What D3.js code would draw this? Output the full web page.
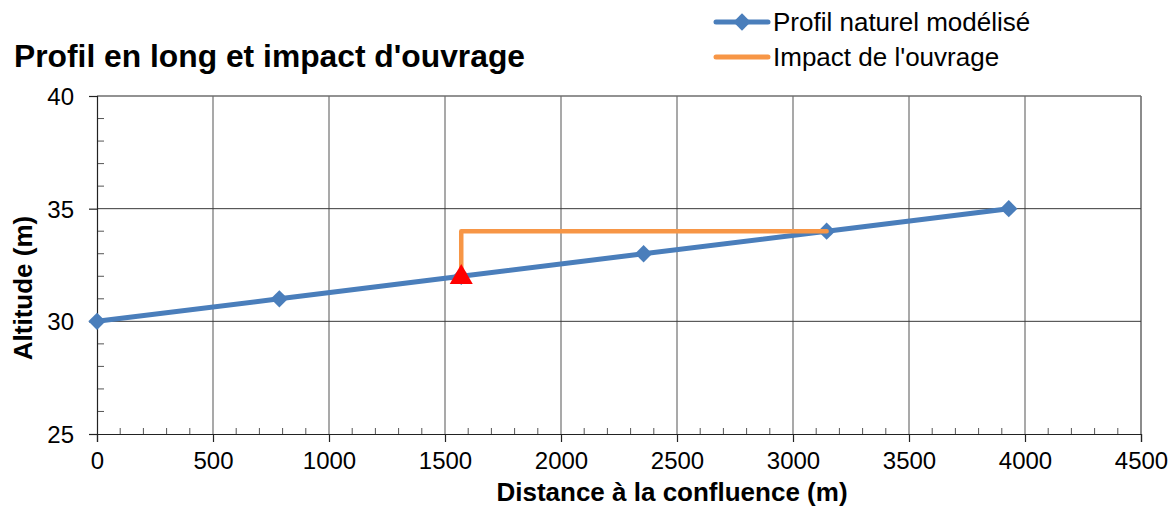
<!DOCTYPE html>
<html><head><meta charset="utf-8">
<script src="https://cdn.jsdelivr.net/npm/d3@7"></script>
<style>body{margin:0;background:#fff}text{font-family:"Liberation Sans",Arial,sans-serif}</style>
</head><body><svg id="c" width="1175" height="509"></svg>
<script>
const title = "Profil en long et impact d'ouvrage";
const xTitle = "Distance à la confluence (m)";
const yTitle = "Altitude (m)";
const seriesNames = ["Profil naturel modélisé", "Impact de l'ouvrage"];
const profilX = [0, 786, 1570, 2356, 3145, 3930];
const profilY = [30, 31, 32, 33, 34, 35];
const impactX = [1570, 1570, 3145];
const impactY = [32, 34, 34];
const ouvrageX = [1570];
const ouvrageY = [32];
const xTicks = [0, 500, 1000, 1500, 2000, 2500, 3000, 3500, 4000, 4500];
const yTicks = [25, 30, 35, 40];

const svg = d3.select("#c");
const x = d3.scaleLinear().domain([0, 4500]).range([97, 1141]);
const y = d3.scaleLinear().domain([25, 40]).range([434, 96]);

// vertical grid
svg.append("g").selectAll("line").data(xTicks.slice(1)).join("line")
  .attr("x1", d => x(d)).attr("x2", d => x(d)).attr("y1", y(40)).attr("y2", y(25))
  .attr("stroke", "#8c8c8c").attr("stroke-width", d => d === 4500 ? 2 : 1.5);
// horizontal grid
svg.append("g").selectAll("line").data(yTicks.slice(1)).join("line")
  .attr("x1", x(0)).attr("x2", x(4500)).attr("y1", d => y(d)).attr("y2", d => y(d))
  .attr("stroke", d => d === 40 ? "#6e6e6e" : "#3a3a3a").attr("stroke-width", d => d === 40 ? 1.5 : 1);

// minor ticks
const xMinor = d3.range(0, 4501, 100).filter(v => v % 500 !== 0);
svg.append("g").selectAll("line").data(xMinor).join("line")
  .attr("x1", d => x(d)).attr("x2", d => x(d)).attr("y1", y(25)).attr("y2", y(25) - 6)
  .attr("stroke", "#555").attr("stroke-width", 1);
const yMinor = d3.range(25, 40.01, 1).filter(v => v % 5 !== 0);
svg.append("g").selectAll("line").data(yMinor).join("line")
  .attr("x1", x(0)).attr("x2", x(0) + 7).attr("y1", d => y(d)).attr("y2", d => y(d))
  .attr("stroke", "#555").attr("stroke-width", 1);

// axes
const xAxis = svg.append("g").attr("transform", `translate(0,${y(25)})`)
  .call(d3.axisBottom(x).tickValues(xTicks).tickSize(8).tickPadding(9).tickFormat(d3.format("d")));
const yAxis = svg.append("g").attr("transform", `translate(${x(0)},0)`)
  .call(d3.axisLeft(y).tickValues(yTicks).tickSize(8).tickPadding(15).tickFormat(d3.format("d")));
[xAxis, yAxis].forEach(a => {
  a.select(".domain").attr("stroke", "#222").attr("stroke-width", 1.2);
  a.selectAll(".tick line").attr("stroke", "#222").attr("stroke-width", 1.2);
  a.selectAll(".tick text").attr("font-size", 24).attr("fill", "#000")
    .attr("font-family", "'Liberation Sans', Arial, sans-serif");
});
xAxis.selectAll(".tick text").attr("dy", "0.75em");
yAxis.selectAll(".tick text").attr("dy", "0.35em");

// lines
const line = d3.line().x(d => x(d[0])).y(d => y(d[1]));
svg.append("path").datum(profilX.map((v, i) => [v, profilY[i]]))
  .attr("d", line).attr("fill", "none").attr("stroke", "#4a7ebb").attr("stroke-width", 5);
const diamond = d3.symbol().type(d3.symbolSquare).size(150);
svg.append("g").selectAll("path").data(profilX.map((v, i) => [v, profilY[i]])).join("path")
  .attr("d", diamond).attr("transform", d => `translate(${x(d[0])},${y(d[1])}) rotate(45)`)
  .attr("fill", "#4a7ebb");
svg.append("path").datum(impactX.map((v, i) => [v, impactY[i]]))
  .attr("d", line).attr("fill", "none").attr("stroke", "#f79646").attr("stroke-width", 4.5)
  .attr("stroke-linejoin", "round").attr("stroke-linecap", "round");
const tri = d3.symbol().type(d3.symbolTriangle).size(230);
svg.append("g").selectAll("path").data(ouvrageX.map((v, i) => [v, ouvrageY[i]])).join("path")
  .attr("d", tri).attr("transform", d => `translate(${x(d[0])},${y(d[1]) + 1})`)
  .attr("fill", "#ff0000");

// title
svg.append("text").attr("x", 14).attr("y", 67).attr("font-size", 32).attr("font-weight", "bold")
  .attr("textLength", 511).attr("lengthAdjust", "spacingAndGlyphs").text(title);
svg.append("text").attr("x", 672).attr("y", 501).attr("text-anchor", "middle")
  .attr("font-size", 26).attr("font-weight", "bold").text(xTitle);
svg.append("text").attr("transform", `translate(32,${288}) rotate(-90)`)
  .attr("text-anchor", "middle").attr("font-size", 26).attr("font-weight", "bold").text(yTitle);

// legend
const leg = svg.append("g");
const legColors = ["#4a7ebb", "#f79646"];
seriesNames.forEach((n, i) => {
  const ly = 22 + i * 35;
  leg.append("line").attr("x1", 716).attr("x2", 768).attr("y1", ly).attr("y2", ly)
    .attr("stroke", legColors[i]).attr("stroke-width", 5).attr("stroke-linecap", "round");
  if (i === 0) leg.append("path").attr("d", diamond).attr("transform", `translate(742,${ly}) rotate(45)`).attr("fill", legColors[i]);
  leg.append("text").attr("x", 773).attr("y", ly + 9).attr("font-size", 26).text(n);
});
</script></body></html>
